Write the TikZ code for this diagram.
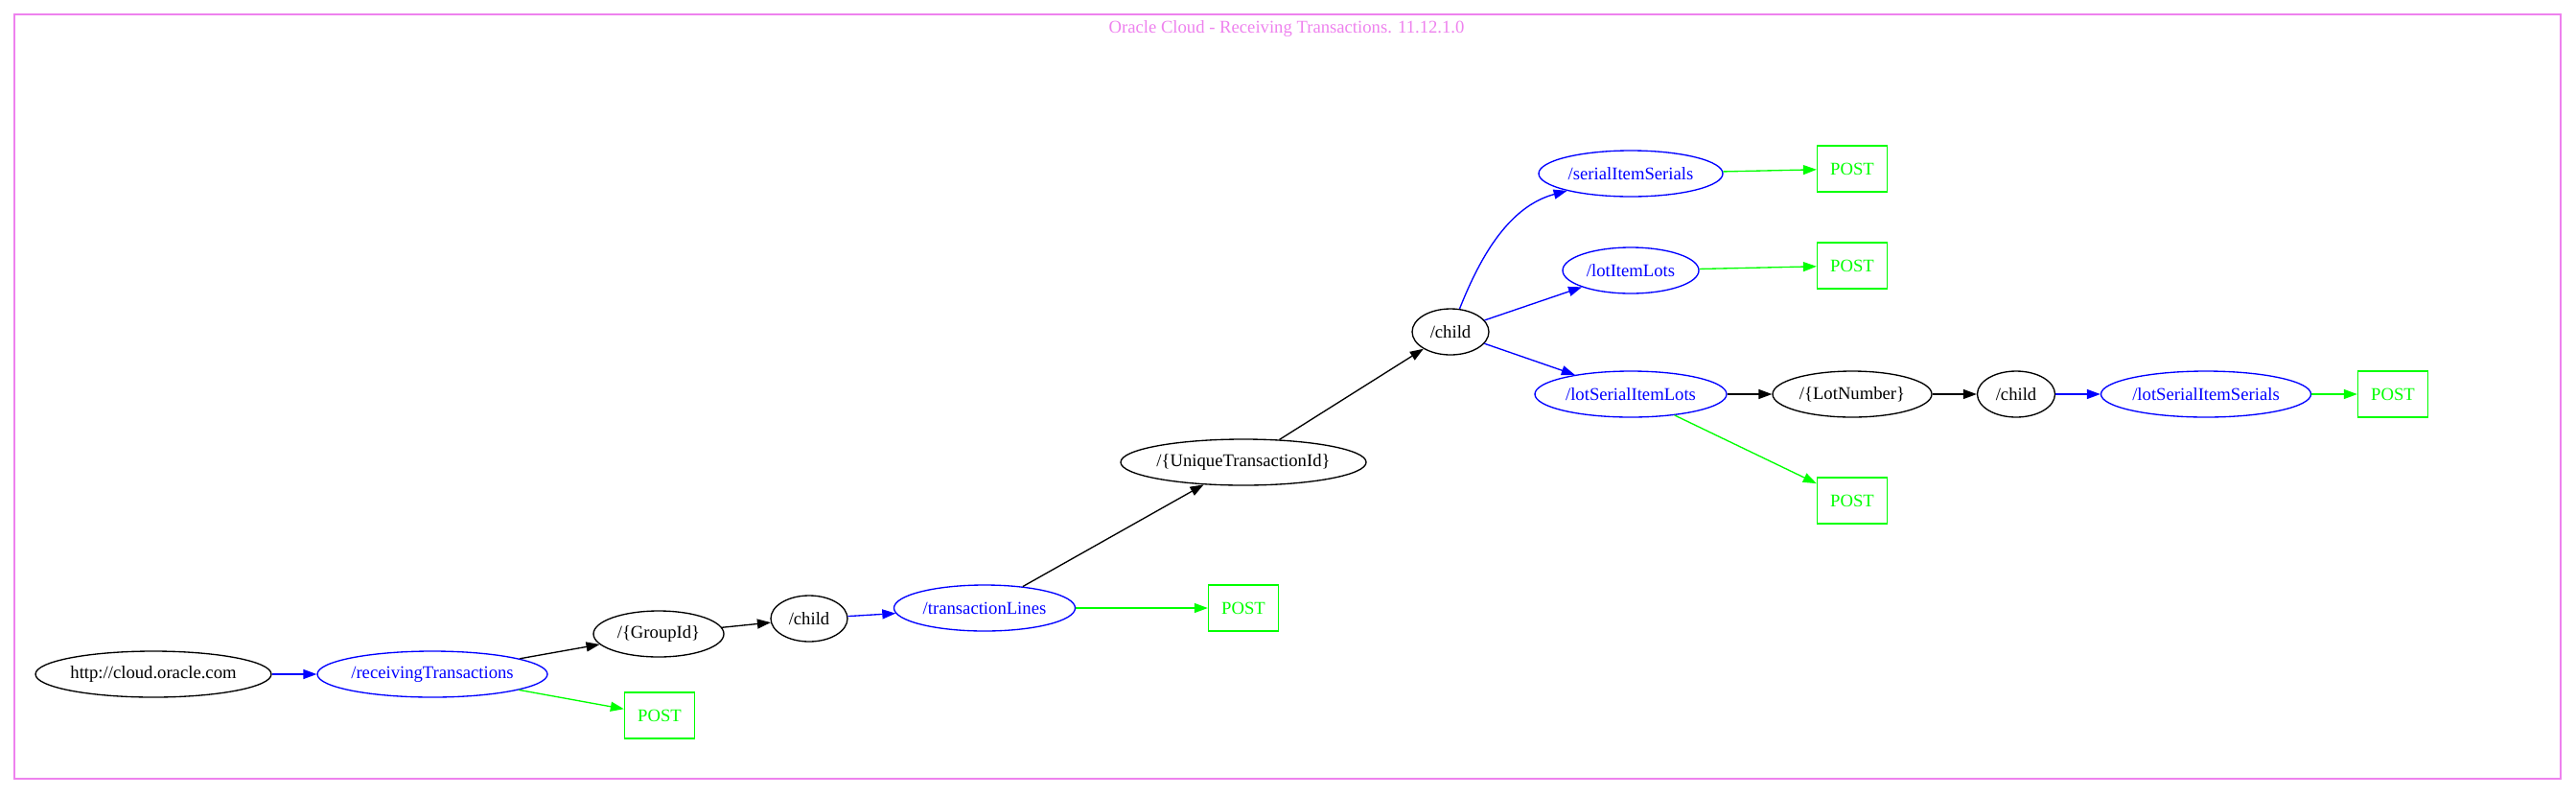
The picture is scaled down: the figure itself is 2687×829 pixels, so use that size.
\documentclass[tikz,border=0pt]{standalone}
\usepackage{fontspec}
\setmainfont{Liberation Serif}
\usetikzlibrary{arrows.meta,shapes.geometric}
\definecolor{gvviolet}{HTML}{EE82EE}
\definecolor{gvblue}{HTML}{0000FF}
\definecolor{gvgreen}{HTML}{00FF00}
\tikzset{
  base/.style={inner sep=0pt, line width=1pt, font=\fontsize{14}{16}\selectfont},
  res/.style={base, ellipse, draw=black, text=black, minimum height=36pt},
  coll/.style={base, ellipse, draw=gvblue, text=gvblue, minimum height=36pt},
  verb/.style={base, rectangle, draw=gvgreen, text=gvgreen, minimum width=54.75pt, minimum height=36pt},
  edge/.style={line width=1pt, -{Triangle[length=10.5pt,width=7.5pt]}},
  eblack/.style={edge, draw=black},
  eblue/.style={edge, draw=gvblue},
  egreen/.style={edge, draw=gvgreen},
}
\begin{document}
\begin{tikzpicture}[x=0.75pt, y=-0.75pt]
\useasboundingbox (0,0) rectangle (2687,829);
\draw[gvviolet, line width=1pt] (15,15) rectangle (2671,812);
\node[base, text=gvviolet] (title) at (1342,30) {Oracle Cloud - Receiving Transactions. 11.12.1.0};

\node[res, minimum width=184.5pt] (http) at (160,703) {http://cloud.oracle.com};
\node[coll, minimum width=180pt] (rt) at (451,703) {/receivingTransactions};
\node[res, minimum width=102pt] (gid) at (687,661) {/\{GroupId\}};
\node[verb] (p1) at (688,746) {POST};
\node[res, minimum width=60pt] (c1) at (844,645) {/child};
\node[coll, minimum width=141.75pt] (tl) at (1027,634) {/transactionLines};
\node[verb] (p2) at (1297,634) {POST};
\node[res, minimum width=192pt] (uti) at (1297,482) {/\{UniqueTransactionId\}};
\node[res, minimum width=60pt] (c2) at (1513,346) {/child};
\node[coll, minimum width=144pt] (sis) at (1701,181) {/serialItemSerials};
\node[verb] (p3) at (1932,176) {POST};
\node[coll, minimum width=106.5pt] (lil) at (1701,282) {/lotItemLots};
\node[verb] (p4) at (1932,277) {POST};
\node[coll, minimum width=150pt] (lsil) at (1701,411) {/lotSerialItemLots};
\node[res, minimum width=124.5pt] (ln) at (1932,411) {/\{LotNumber\}};
\node[res, minimum width=60.75pt] (c3) at (2103,411) {/child};
\node[coll, minimum width=164.25pt] (lsis) at (2301,411) {/lotSerialItemSerials};
\node[verb] (p5) at (2496,411) {POST};
\node[verb] (p6) at (1932,522) {POST};

\draw[eblue] (http) -- (rt);
\draw[eblack] (rt) -- (gid);
\draw[egreen] (rt) -- (p1);
\draw[eblack] (gid) -- (c1);
\draw[eblue] (c1) -- (tl);
\draw[eblack] (tl) -- (uti);
\draw[egreen] (tl) -- (p2);
\draw[eblack] (uti) -- (c2);
\draw[eblue] (c2) .. controls (1545,265) and (1575,215) .. (sis);
\draw[eblue] (c2) -- (lil);
\draw[eblue] (c2) -- (lsil);
\draw[egreen] (sis) -- (p3);
\draw[egreen] (lil) -- (p4);
\draw[eblack] (lsil) -- (ln);
\draw[egreen] (lsil) -- (p6);
\draw[eblack] (ln) -- (c3);
\draw[eblue] (c3) -- (lsis);
\draw[egreen] (lsis) -- (p5);
\end{tikzpicture}
\end{document}
